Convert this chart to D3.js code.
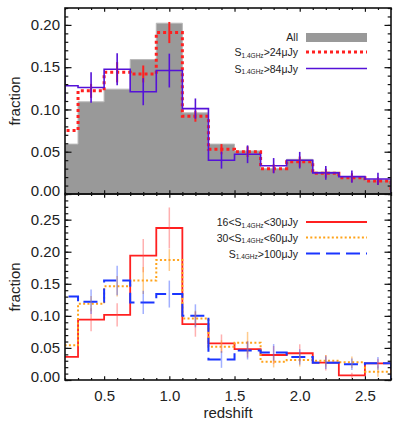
<!DOCTYPE html>
<html><head><meta charset="utf-8">
<script src="https://cdn.jsdelivr.net/npm/d3@7"></script>
<style>
body{margin:0;background:#fff}
svg{display:block}
text{font-family:"Liberation Sans",Arial,Helvetica,sans-serif;fill:#222}
</style>
</head><body>
<svg id="c" width="403" height="427"></svg>
<script>
// ---- data ----
const binEdges   = [0.1,0.3,0.5,0.7,0.9,1.1,1.3,1.5,1.7,1.9,2.1,2.3,2.5,2.7];
const binCenters = [0.2,0.4,0.6,0.8,1.0,1.2,1.4,1.6,1.8,2.0,2.2,2.4,2.6];

// top panel
const allFrac = [0.059,0.109,0.124,0.159,0.202,0.096,0.059,0.051,0.030,0.041,0.026,0.0205,0.0166];
const s24Frac = [0.075,0.122,0.144,0.142,0.191,0.092,0.053,0.050,0.030,0.038,0.0245,0.0193,0.0154];
const s24Err  = [null,0.0083,0.012,0.010,0.0125,0.0065,0.006,0.0063,0.005,0.0063,0.0053,0.0053,0.0045];
const s84Frac = [0.128,0.126,0.1475,0.121,0.146,0.101,0.040,0.047,0.0335,0.040,0.025,0.0205,0.0178];
const s84Err  = [0.018,0.018,0.019,0.016,0.020,0.012,0.010,0.0105,0.009,0.0098,0.008,0.0073,0.0073];

// bottom panel
const s16to30Frac = [0.036,0.094,0.1016,0.194,0.237,0.087,0.057,0.048,0.039,0.0417,0.027,0.0073,0.026];
const s16to30Err  = [null,0.018,0.018,0.026,0.032,0.0195,0.014,0.013,0.014,0.014,0.012,0.004,0.007];
const s30to60Frac = [0.054,0.119,0.146,0.155,0.187,0.096,0.052,0.058,0.0286,0.031,0.030,0.0276,0.013];
const s30to60Err  = [null,0.012,0.016,0.021,0.017,0.012,0.010,0.017,0.009,0.010,0.009,0.009,0.008];
const s100Frac    = [0.130,0.122,0.155,0.121,0.134,0.100,0.032,0.046,0.043,0.036,0.027,0.0245,0.026];
const s100Err     = [null,0.019,0.023,0.018,0.021,0.018,0.013,0.014,0.013,0.012,0.010,0.009,0.010];

const xTicks      = [0.5,1.0,1.5,2.0,2.5];
const xMinorTicks = [0.2,0.3,0.4,0.6,0.7,0.8,0.9,1.1,1.2,1.3,1.4,1.6,1.7,1.8,1.9,2.1,2.2,2.3,2.4,2.6,2.7];
const yTicksTop   = [0,0.05,0.10,0.15,0.20];
const yTicksBot   = [0,0.05,0.10,0.15,0.20,0.25];
const topLegend   = [{pre:"",sub:"",post:"All"},{pre:"S",sub:"1.4GHz",post:">24\u03BCJy"},{pre:"S",sub:"1.4GHz",post:">84\u03BCJy"}];
const botLegend   = [{pre:"16<S",sub:"1.4GHz",post:"<30\u03BCJy"},{pre:"30<S",sub:"1.4GHz",post:"<60\u03BCJy"},{pre:"S",sub:"1.4GHz",post:">100\u03BCJy"}];

// ---- layout ----
const svg = d3.select("#c");
const L = 65, R = 391;
const x = d3.scaleLinear().domain([0.2,2.7]).range([L,R]);
const yTop = d3.scaleLinear().domain([0,0.22]).range([194,8]);
const yBot = d3.scaleLinear().domain([0,0.29]).range([380,194]);

const RED="#ff2020", VIOLET="#5512d8", BLUE="#1a35ff", ORANGE="#ffa31a";

function stepPts(vals){
  const n = binEdges.length-1;
  const pts = [[binEdges[0],0]];
  vals.forEach((v,i)=>pts.push([binEdges[i],v]));
  pts.push([binEdges[n],vals[vals.length-1]]);
  pts.push([binEdges[n],0]);
  return pts;
}

function panel(id,y,yTicks){
  const g = svg.append("g");
  const y0 = y.range()[0], y1 = y.range()[1];
  g.append("clipPath").attr("id",id).append("rect")
    .attr("x",L).attr("y",y1).attr("width",R-L).attr("height",y0-y1);
  const plot = g.append("g").attr("clip-path",`url(#${id})`);
  return {g,plot,y,yTicks};
}

function stepLine(P,vals,color,width,dash){
  const line = d3.line().x(d=>x(d[0])).y(d=>P.y(d[1])).curve(d3.curveStepAfter);
  P.plot.append("path").attr("d",line(stepPts(vals))).attr("fill","none")
    .attr("stroke",color).attr("stroke-width",width)
    .attr("stroke-dasharray",dash||null);
}
function errBars(P,vals,errs,color,width,opacity){
  P.plot.append("g").selectAll("line").data(binCenters.map((c,i)=>({c,v:vals[i],e:errs[i]})).filter(d=>d.e!=null))
    .join("line")
    .attr("x1",d=>x(d.c)).attr("x2",d=>x(d.c))
    .attr("y1",d=>P.y(d.v-d.e)).attr("y2",d=>P.y(d.v+d.e))
    .attr("stroke",color).attr("stroke-width",width).attr("stroke-opacity",opacity);
}

function axes(P,showXLabels){
  const g = P.g, y = P.y;
  const yMinor = d3.range(0, y.domain()[1]+1e-9, 0.01);
  // left
  g.append("g").attr("transform",`translate(${L},0)`)
    .call(d3.axisLeft(y).tickValues(yMinor).tickSize(-3.3).tickFormat(""));
  const la = g.append("g").attr("transform",`translate(${L},0)`)
    .call(d3.axisLeft(y).tickValues(P.yTicks).tickSize(-6.5).tickPadding(5).tickFormat(d3.format(".2f")));
  la.selectAll("text").style("font-size","15px").attr("fill","#222")
    .attr("dy",d=>d===0?"0.12em":"0.32em");
  // right
  g.append("g").attr("transform",`translate(${R},0)`)
    .call(d3.axisRight(y).tickValues(yMinor).tickSize(-3.3).tickFormat(""));
  g.append("g").attr("transform",`translate(${R},0)`)
    .call(d3.axisRight(y).tickValues(P.yTicks).tickSize(-6.5).tickFormat(""));
  // bottom / top
  const yb = y.range()[0], yt = y.range()[1];
  g.append("g").attr("transform",`translate(0,${yb})`)
    .call(d3.axisBottom(x).tickValues(xMinorTicks).tickSize(-2).tickFormat(""));
  const ba = g.append("g").attr("transform",`translate(0,${yb})`)
    .call(d3.axisBottom(x).tickValues(xTicks).tickSize(-3.8).tickPadding(10)
      .tickFormat(showXLabels?d3.format(".1f"):""));
  ba.selectAll("text").style("font-size","15px").attr("fill","#222");
  g.append("g").attr("transform",`translate(0,${yt})`)
    .call(d3.axisTop(x).tickValues(xMinorTicks).tickSize(-2).tickFormat(""));
  g.append("g").attr("transform",`translate(0,${yt})`)
    .call(d3.axisTop(x).tickValues(xTicks).tickSize(-3.8).tickFormat(""));
  g.selectAll(".domain").remove();
  g.selectAll(".tick line").attr("stroke","#111").attr("stroke-width",1.2);
  g.append("rect").attr("x",L).attr("y",yt).attr("width",R-L).attr("height",yb-yt)
    .attr("fill","none").attr("stroke","#111").attr("stroke-width",1.6);
  // y label
  g.append("text").attr("transform",`translate(20,${(yb+yt)/2}) rotate(-90)`)
    .attr("text-anchor","middle").style("font-size","15px").text("fraction");
}

function legendText(g,item,xr,yc){
  const t = g.append("text").attr("x",xr).attr("y",yc).attr("text-anchor","end")
    .attr("dominant-baseline","central").style("font-size","10.5px");
  if(item.pre) t.append("tspan").text(item.pre);
  if(item.sub) t.append("tspan").style("font-size","6.5px").attr("dy","2.5").text(item.sub);
  t.append("tspan").attr("dy",item.sub?"-2.5":null).text(item.post);
}

// ---- top panel ----
const T = panel("clipTop",yTop,yTicksTop);
const area = d3.area().x(d=>x(d[0])).y0(yTop(0)).y1(d=>yTop(d[1])).curve(d3.curveStepAfter);
T.plot.append("path").attr("d",area(stepPts(allFrac))).attr("fill","#999")
  .attr("stroke","#b8b8b8").attr("stroke-width",1);
stepLine(T,s24Frac,RED,3,"3,3");
stepLine(T,s84Frac,VIOLET,1.6);
errBars(T,s24Frac,s24Err,RED,2,1);
errBars(T,s84Frac,s84Err,VIOLET,1.6,1);
axes(T,false);
// legend top
const lgT = T.g.append("g");
const legX0 = 306, legX1 = 367, legTextR = 298;
const topLegY = [37,52,68.5];
lgT.append("rect").attr("x",legX0).attr("y",yTop(0.22)+25).attr("width",legX1-legX0).attr("height",9).attr("fill","#999");
lgT.append("line").attr("x1",legX0).attr("x2",legX1).attr("y1",topLegY[1]).attr("y2",topLegY[1])
  .attr("stroke",RED).attr("stroke-width",3).attr("stroke-dasharray","3,3");
lgT.append("line").attr("x1",legX0).attr("x2",legX1).attr("y1",topLegY[2]).attr("y2",topLegY[2])
  .attr("stroke",VIOLET).attr("stroke-width",1.6);
topLegend.forEach((it,i)=>legendText(lgT,it,legTextR,topLegY[i]));

// ---- bottom panel ----
const B = panel("clipBot",yBot,yTicksBot);
stepLine(B,s16to30Frac,RED,1.8);
stepLine(B,s30to60Frac,ORANGE,2,"2,2.3");
stepLine(B,s100Frac,BLUE,2,"14,6");
errBars(B,s16to30Frac,s16to30Err,"#ff5050",1.5,0.45);
errBars(B,s30to60Frac,s30to60Err,"#ffa030",1.5,0.55);
errBars(B,s100Frac,s100Err,"#3050ff",1.5,0.45);
axes(B,true);
const lgB = B.g.append("g");
const botLegY = [222,237.5,253.5];
lgB.append("line").attr("x1",legX0).attr("x2",legX1).attr("y1",botLegY[0]).attr("y2",botLegY[0])
  .attr("stroke",RED).attr("stroke-width",1.8);
lgB.append("line").attr("x1",legX0).attr("x2",legX1).attr("y1",botLegY[1]).attr("y2",botLegY[1])
  .attr("stroke",ORANGE).attr("stroke-width",2).attr("stroke-dasharray","2,2.3");
lgB.append("line").attr("x1",legX0).attr("x2",legX1).attr("y1",botLegY[2]).attr("y2",botLegY[2])
  .attr("stroke",BLUE).attr("stroke-width",2).attr("stroke-dasharray","14,6");
botLegend.forEach((it,i)=>legendText(lgB,it,legTextR,botLegY[i]));

// x label
svg.append("text").attr("x",(L+R)/2).attr("y",412).attr("text-anchor","middle")
  .attr("dominant-baseline","central").style("font-size","15px").text("redshift");
</script>
</body></html>
